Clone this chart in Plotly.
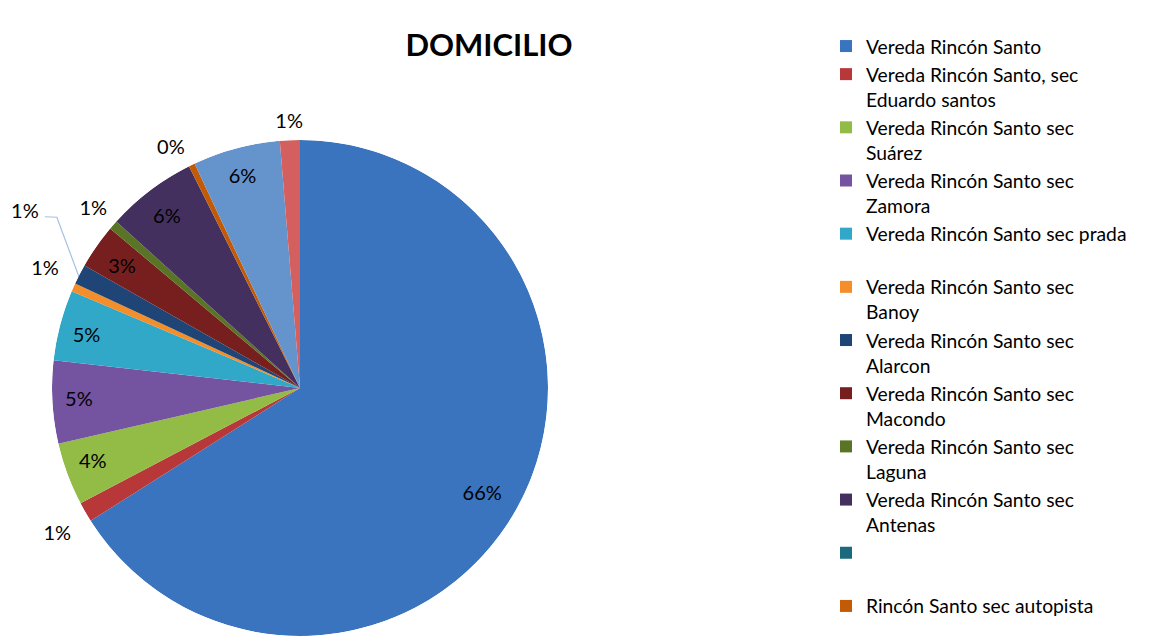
import math
import plotly.graph_objects as go

# Domicilio de los encuestados (porcentaje)
barrios = [
    "Vereda Rincón Santo",
    "Vereda Rincón Santo, sec<br>Eduardo santos",
    "Vereda Rincón Santo sec<br>Suárez",
    "Vereda Rincón Santo sec<br>Zamora",
    "Vereda Rincón Santo sec prada<br> ",
    "Vereda Rincón Santo sec<br>Banoy",
    "Vereda Rincón Santo sec<br>Alarcon",
    "Vereda Rincón Santo sec<br>Macondo",
    "Vereda Rincón Santo sec<br>Laguna",
    "Vereda Rincón Santo sec<br>Antenas",
    " <br> ",
    "Rincón Santo sec autopista",
    "Rincón Santo sec otros",
    "Otros",
]
porcentajes = [66.1, 1.3, 4.1, 5.4, 4.6, 0.55, 1.3, 2.9, 0.6, 5.9, 0, 0.4, 5.7, 1.3]
colores = ['#3A74BE', '#B8383A', '#93BC47', '#7454A0', '#31A8C8', '#F38E2A', '#1F4576',
           '#761F1E', '#597425', '#44305F', '#1C6A7E', '#C25A06', '#6593CB', '#D3605F']
en_leyenda = [True] * 12 + [False, False]  # la leyenda original queda cortada
# posición de cada etiqueta: radio (fracción del radio) y giro respecto al ángulo medio
radio_etiqueta = [0.852, 1.144, 0.889, 0.893, 0.885, 1.133, 1.315, 0.866, 1.10, 0.870, 1.1, 1.095, 0.877, 1.071]
giro_etiqueta = [1.6, -1.1, 0.4, -0.2, -1.2, 0.9, 5.2, -0.8, -0.4, -0.9, 0, -2.5, -0.4, 0]

FONT = "Lato"
R_PX = 248            # radio de la torta en px
CX, CY = 300, 388     # centro de la torta (px desde arriba a la izquierda)
W, H = 1175, 637
total = sum(porcentajes)

# ángulo medio y ancho de cada porción, y texto del porcentaje
angulos, anchos, textos = [], [], []
acum = 0
for v in porcentajes:
    angulos.append((acum + v / 2) / total * 360)
    anchos.append(v / total * 360)
    acum += v
    textos.append(f"{int(v / total * 100 + 0.5)}%" if v > 0 else "")
theta_txt = [a + g for a, g in zip(angulos, giro_etiqueta)]

fig = go.Figure()
for k in range(len(barrios)):
    fig.add_trace(go.Barpolar(
        r=[1], theta=[angulos[k]], width=[anchos[k]],
        name=barrios[k],
        marker=dict(color=colores[k], line=dict(width=0)),
        showlegend=en_leyenda[k],
        hovertemplate=barrios[k].replace('<br>', ' ') + ': ' + textos[k] + '<extra></extra>',
    ))

# etiquetas dentro de la torta
dentro = [k for k in range(len(barrios)) if radio_etiqueta[k] < 1]
fuera = [k for k in range(len(barrios)) if radio_etiqueta[k] >= 1]
fig.add_trace(go.Scatterpolar(
    r=[radio_etiqueta[k] for k in dentro],
    theta=[theta_txt[k] for k in dentro],
    mode='text', text=[textos[k] for k in dentro],
    textfont=dict(family=FONT, size=20, color='black'),
    showlegend=False, hoverinfo='skip',
))

# etiquetas fuera de la torta (ejes cartesianos ocultos con la misma escala)
def a_xy(r, th):
    return r * math.sin(math.radians(th)), r * math.cos(math.radians(th))

pts = [a_xy(radio_etiqueta[k], theta_txt[k]) for k in fuera]
fig.add_trace(go.Scatter(
    x=[p[0] for p in pts], y=[p[1] for p in pts],
    mode='text', text=[textos[k] for k in fuera],
    textfont=dict(family=FONT, size=20, color='black'),
    showlegend=False, hoverinfo='skip', cliponaxis=False,
))

# línea guía de la etiqueta desplazada (Alarcon)
i = 6
guia = [a_xy(1.239, angulos[i] + 6.6), a_xy(1.198, angulos[i] + 7.8), a_xy(0.997, angulos[i] - 0.6)]
fig.add_trace(go.Scatter(
    x=[p[0] for p in guia], y=[p[1] for p in guia],
    mode='lines', line=dict(color='#A6C0E4', width=1.2),
    showlegend=False, hoverinfo='skip', cliponaxis=False,
))

fig.update_layout(
    width=W, height=H,
    margin=dict(l=0, r=0, t=0, b=0),
    paper_bgcolor='white', plot_bgcolor='rgba(0,0,0,0)',
    font=dict(family=FONT, color='black'),
    title=dict(text='<b>DOMICILIO</b>', x=489 / W, xanchor='center',
               y=1 - 45 / H, yanchor='middle', font=dict(size=31, family=FONT)),
    legend=dict(x=826 / W, y=1 - 27 / H, xanchor='left', yanchor='top',
                valign='top', font=dict(size=19.3, family=FONT), tracegroupgap=0),
    polar=dict(
        domain=dict(x=[(CX - R_PX) / W, (CX + R_PX) / W],
                    y=[(H - CY - R_PX) / H, (H - CY + R_PX) / H]),
        bgcolor='rgba(0,0,0,0)',
        bargap=0,
        radialaxis=dict(range=[0, 1], visible=False),
        angularaxis=dict(rotation=90, direction='clockwise', visible=False),
    ),
    xaxis=dict(domain=[0, 2 * CX / W], range=[-CX / R_PX, CX / R_PX], visible=False, fixedrange=True),
    yaxis=dict(domain=[0, 1], range=[-(H - CY) / R_PX, CY / R_PX], visible=False, fixedrange=True),
)

fig.write_html("out.html", config={'displayModeBar': False},
               post_script="document.body.style.margin='0px';")
